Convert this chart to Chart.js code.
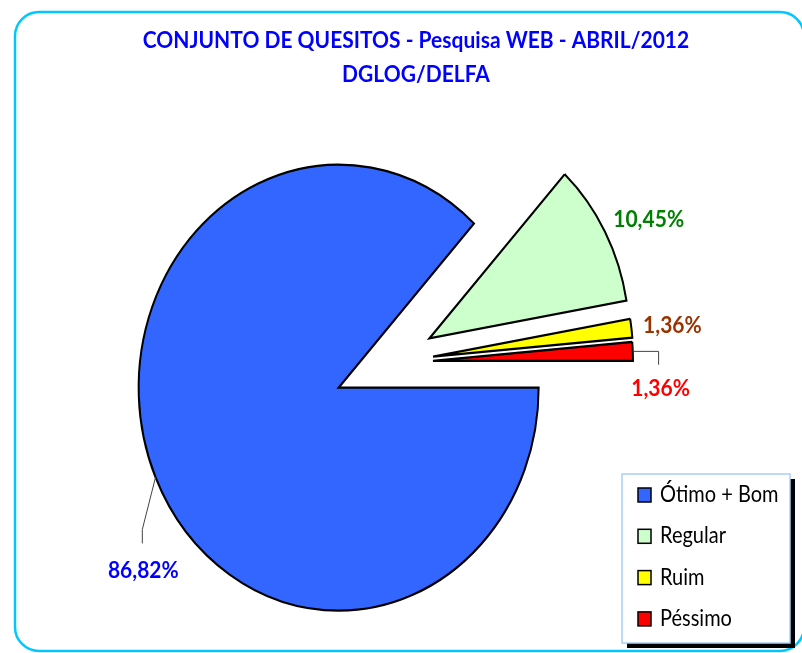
<!DOCTYPE html>
<html><head><meta charset="utf-8">
<script src="https://cdn.jsdelivr.net/npm/chart.js@4/dist/chart.umd.min.js"></script>
<style>html,body{margin:0;padding:0;background:#fff;overflow:hidden}</style>
</head><body>
<canvas id="c" width="802" height="653"></canvas>
<script>
// ---- data ----
const titleLines = ['CONJUNTO DE QUESITOS - Pesquisa WEB - ABRIL/2012', 'DGLOG/DELFA'];
const categories = ['Ótimo + Bom', 'Regular', 'Ruim', 'Péssimo'];
const values = [86.82, 10.45, 1.36, 1.36];

// ---- style ----
const sliceColors = ['#3366ff', '#ccffcc', '#ffff00', '#ff0000'];
const labelColors = ['#0000ff', '#008000', '#993300', '#ff0000'];
const SY = 1.115;                      // vertical stretch of the picture
const explode = [55, 46, 44.4, 44];    // explosion distance per slice
const labelPlace = [{da: -16.3, r: 255}, {da: 2.6, r: 244}, {da: 0.6, r: 241}, {da: 8.7, r: 229}];
const leaders = [[[-1, -41], [-1, -27]], null, null, [[-2, -37], [-2, -24]]];
const FONT = 'Lato, "Open Sans", sans-serif';

function fmt(v) { return v.toFixed(2).replace('.', ',') + '%'; }

function stretchedText(ctx, txt, x, y, font, color, align) {
  ctx.save();
  ctx.translate(x, y);
  ctx.scale(1, SY);
  ctx.font = font;
  ctx.fillStyle = color;
  ctx.textAlign = align || 'center';
  ctx.textBaseline = 'middle';
  ctx.fillText(txt, 0, 0);
  ctx.restore();
}

function arcGeom(arc, i) {
  const mid = (arc.startAngle + arc.endAngle) / 2;
  const d = explode[i];
  return { mid, cx: arc.x + Math.cos(mid) * d, cy: arc.y + Math.sin(mid) * d * SY };
}

const piePlugin = {
  id: 'explodedEllipse',
  beforeDraw(chart) {
    const ctx = chart.ctx;
    ctx.save();
    ctx.fillStyle = '#ffffff';
    ctx.fillRect(0, 0, chart.width, chart.height);
    ctx.restore();
  },
  beforeDatasetsDraw(chart) {
    const ctx = chart.ctx;
    const meta = chart.getDatasetMeta(0);
    meta.data.forEach((arc, i) => {
      const mid = (arc.startAngle + arc.endAngle) / 2;
      ctx.save();
      ctx.translate(arc.x, arc.y);
      ctx.scale(1, SY);
      ctx.translate(-arc.x, -arc.y);
      ctx.translate(Math.cos(mid) * explode[i], Math.sin(mid) * explode[i]);
      arc.draw(ctx);
      ctx.restore();
    });
    return false;
  },
  afterDraw(chart) {
    const ctx = chart.ctx;
    // frame
    ctx.save();
    ctx.strokeStyle = '#00c8ff';
    ctx.lineWidth = 2.5;
    ctx.beginPath();
    ctx.roundRect(15, 12, 789, 639, 24);
    ctx.stroke();
    ctx.restore();

    // title
    titleLines.forEach((t, k) => {
      stretchedText(ctx, t, 416, 40 + k * 34, 'bold 21px ' + FONT, '#0000ff', 'center');
    });

    // data labels + leaders
    const meta = chart.getDatasetMeta(0);
    meta.data.forEach((arc, i) => {
      const g = arcGeom(arc, i);
      const a = g.mid + labelPlace[i].da * Math.PI / 180;
      const lx = g.cx + Math.cos(a) * labelPlace[i].r;
      const ly = g.cy + Math.sin(a) * labelPlace[i].r * SY;
      if (leaders[i]) {
        const sx = g.cx + Math.cos(g.mid) * arc.outerRadius;
        const sy = g.cy + Math.sin(g.mid) * arc.outerRadius * SY;
        ctx.save();
        ctx.strokeStyle = '#444';
        ctx.lineWidth = 1;
        ctx.beginPath();
        ctx.moveTo(sx, sy);
        const e = leaders[i][0], f = leaders[i][1];
        if (i === 3) ctx.lineTo(lx + e[0], sy); else ctx.lineTo(lx + e[0], ly + e[1]);
        ctx.lineTo(lx + f[0], ly + f[1]);
        ctx.stroke();
        ctx.restore();
      }
      stretchedText(ctx, fmt(chart.data.datasets[0].data[i]), lx, ly, 'bold 21px ' + FONT, labelColors[i], 'center');
    });

    // legend
    const bx = 622, by = 474, bw = 168, bh = 169;
    ctx.save();
    ctx.fillStyle = '#000';
    ctx.fillRect(bx + 5, by + 5, bw, bh);
    ctx.fillStyle = '#fff';
    ctx.fillRect(bx, by, bw, bh);
    ctx.strokeStyle = '#a8d0f5';
    ctx.lineWidth = 1.5;
    ctx.strokeRect(bx, by, bw, bh);
    ctx.restore();
    chart.data.labels.forEach((lab, i) => {
      const ry = 495 + i * 41.3;
      ctx.save();
      ctx.fillStyle = chart.data.datasets[0].backgroundColor[i];
      ctx.fillRect(638, ry - 7, 13, 14);
      ctx.strokeStyle = '#000';
      ctx.lineWidth = 1.5;
      ctx.strokeRect(638, ry - 7, 13, 14);
      ctx.restore();
      stretchedText(ctx, lab, 660, ry, '20px ' + FONT, '#000', 'left');
    });
  }
};

new Chart(document.getElementById('c'), {
  type: 'pie',
  data: {
    labels: categories,
    datasets: [{
      data: values,
      backgroundColor: sliceColors,
      borderColor: '#000',
      borderWidth: 2,
      borderJoinStyle: 'miter',
      radius: 200,
      hoverOffset: 0
    }]
  },
  options: {
    responsive: false,
    animation: false,
    events: [],
    rotation: 90,
    layout: { padding: { left: 0, right: 24, top: 73, bottom: 0 } },
    plugins: { legend: { display: false }, title: { display: false }, tooltip: { enabled: false } }
  },
  plugins: [piePlugin]
});
</script>
</body></html>
